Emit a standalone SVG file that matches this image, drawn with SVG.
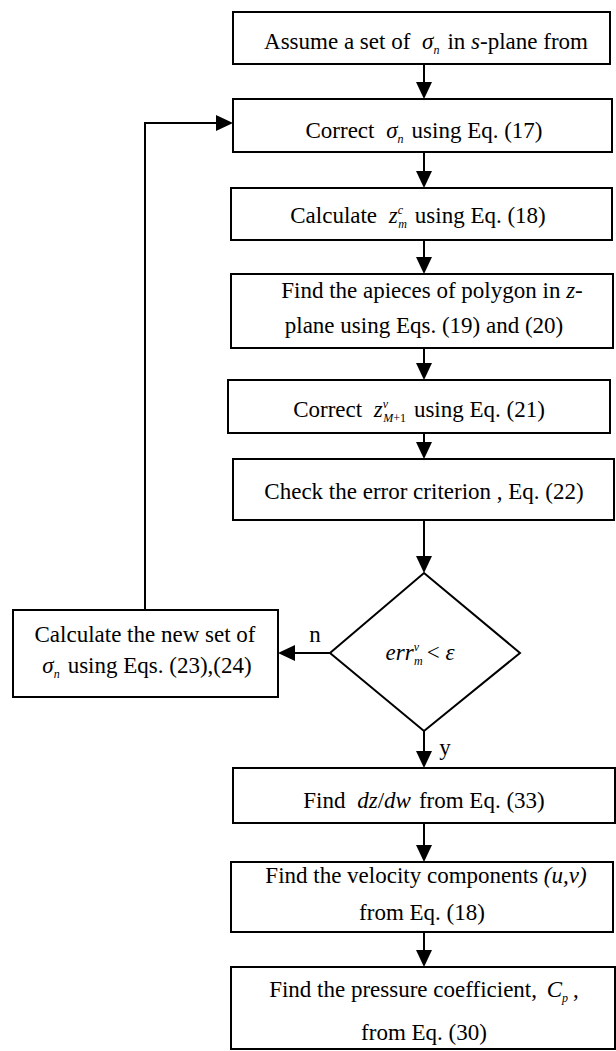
<svg xmlns="http://www.w3.org/2000/svg" width="616" height="1051" viewBox="0 0 616 1051">
  <style>
    .box { fill: #fff; stroke: #000; stroke-width: 2; }
    .line { fill: none; stroke: #000; stroke-width: 2; }
    .t { font-family: "Liberation Serif", "Times New Roman", serif; font-size: 23px; fill: #000; text-anchor: middle; }
    .i { font-style: italic; }
    .s { font-size: 12px; }
  </style>
  <defs>
    <marker id="arrow" viewBox="0 0 17 16" refX="7" refY="8" markerWidth="17" markerHeight="16" markerUnits="userSpaceOnUse" orient="auto">
      <path d="M0,0 L17,8 L0,16 Z" fill="#000"/>
    </marker>
  </defs>
  <rect width="616" height="1051" fill="#fff"/>

  <!-- connectors -->
  <g id="connectors">
    <path class="line" d="M424,64 V89" marker-end="url(#arrow)"/>
    <path class="line" d="M424,152 V178" marker-end="url(#arrow)"/>
    <path class="line" d="M424,240 V264" marker-end="url(#arrow)"/>
    <path class="line" d="M424,348 V370" marker-end="url(#arrow)"/>
    <path class="line" d="M424,433 V449" marker-end="url(#arrow)"/>
    <path class="line" d="M424,520 V563" marker-end="url(#arrow)"/>
    <path class="line" d="M330,653 H288" marker-end="url(#arrow)"/>
    <path class="line" d="M145,610 V123 H223" marker-end="url(#arrow)"/>
    <path class="line" d="M424,731 V758" marker-end="url(#arrow)"/>
    <path class="line" d="M424,823 V852" marker-end="url(#arrow)"/>
    <path class="line" d="M424,932 V957" marker-end="url(#arrow)"/>
    <text class="t" x="315" y="642">n</text>
    <text class="t" x="445" y="755">y</text>
  </g>

  <g id="assume">
    <rect class="box" x="233" y="12" width="377" height="52"/>
    <text class="t" x="426" y="49">Assume a set of <tspan class="i" dx="6">σ</tspan><tspan class="s i" dy="5">n</tspan><tspan dy="-5" dx="8">in </tspan><tspan class="i">s</tspan>-plane from</text>
  </g>

  <g id="correct-sigma">
    <rect class="box" x="233" y="99" width="379" height="53"/>
    <text class="t" x="424" y="138">Correct <tspan class="i" dx="6">σ</tspan><tspan class="s i" dy="5">n</tspan><tspan dy="-5" dx="8">using Eq. (17)</tspan></text>
  </g>

  <g id="calc-zc">
    <rect class="box" x="231" y="188" width="381" height="52"/>
    <text class="t" x="418" y="223">Calculate <tspan class="i" dx="6">z</tspan><tspan class="s i" dy="-9">c</tspan><tspan class="s i" dx="-5" dy="14">m</tspan><tspan dy="-5" dx="8">using Eq. (18)</tspan></text>
  </g>

  <g id="apieces">
    <rect class="box" x="231" y="274" width="382" height="74"/>
    <text class="t" x="432" y="298">Find the apieces of polygon in <tspan class="i">z</tspan>-</text>
    <text class="t" x="424" y="333">plane using Eqs. (19) and (20)</text>
  </g>

  <g id="correct-z">
    <rect class="box" x="228" y="380" width="382" height="53"/>
    <text class="t" x="419" y="417">Correct <tspan class="i" dx="6">z</tspan><tspan class="s i" dy="-9">ν</tspan><tspan class="s i" dx="-5" dy="14">M</tspan><tspan class="s">+1</tspan><tspan dy="-5" dx="8">using Eq. (21)</tspan></text>
  </g>

  <g id="check-error">
    <rect class="box" x="233" y="459" width="381" height="61"/>
    <text class="t" x="424" y="499">Check the error criterion , Eq. (22)</text>
  </g>

  <g id="decision">
    <polygon class="box" points="424,573 520,653 424,731 330,653"/>
    <text class="t" x="420" y="660"><tspan class="i">err</tspan><tspan class="s i" dy="-9">ν</tspan><tspan class="s i" dx="-5" dy="14">m</tspan><tspan dy="-5" dx="4">&lt; </tspan><tspan class="i">ε</tspan></text>
  </g>

  <g id="new-sigma">
    <rect class="box" x="13" y="610" width="265" height="87"/>
    <text class="t" x="145" y="642">Calculate the new set of</text>
    <text class="t" x="147" y="673"><tspan class="i">σ</tspan><tspan class="s i" dy="5">n</tspan><tspan dy="-5" dx="8">using Eqs. (23),(24)</tspan></text>
  </g>

  <g id="dzdw">
    <rect class="box" x="233" y="768" width="382" height="55"/>
    <text class="t" x="424" y="808">Find <tspan class="i" dx="6">dz</tspan>/<tspan class="i">dw</tspan><tspan dx="8">from Eq. (33)</tspan></text>
  </g>

  <g id="velocity">
    <rect class="box" x="231" y="862" width="382" height="70"/>
    <text class="t" x="426" y="883">Find the velocity components <tspan class="i">(u,v)</tspan></text>
    <text class="t" x="422" y="920">from Eq. (18)</text>
  </g>

  <g id="pressure">
    <rect class="box" x="231" y="967" width="384" height="82"/>
    <text class="t" x="424" y="997">Find the pressure coefficient, <tspan class="i" dx="4">C</tspan><tspan class="s i" dy="5">p</tspan><tspan dy="-5" dx="5">,</tspan></text>
    <text class="t" x="424" y="1040">from Eq. (30)</text>
  </g>
</svg>
